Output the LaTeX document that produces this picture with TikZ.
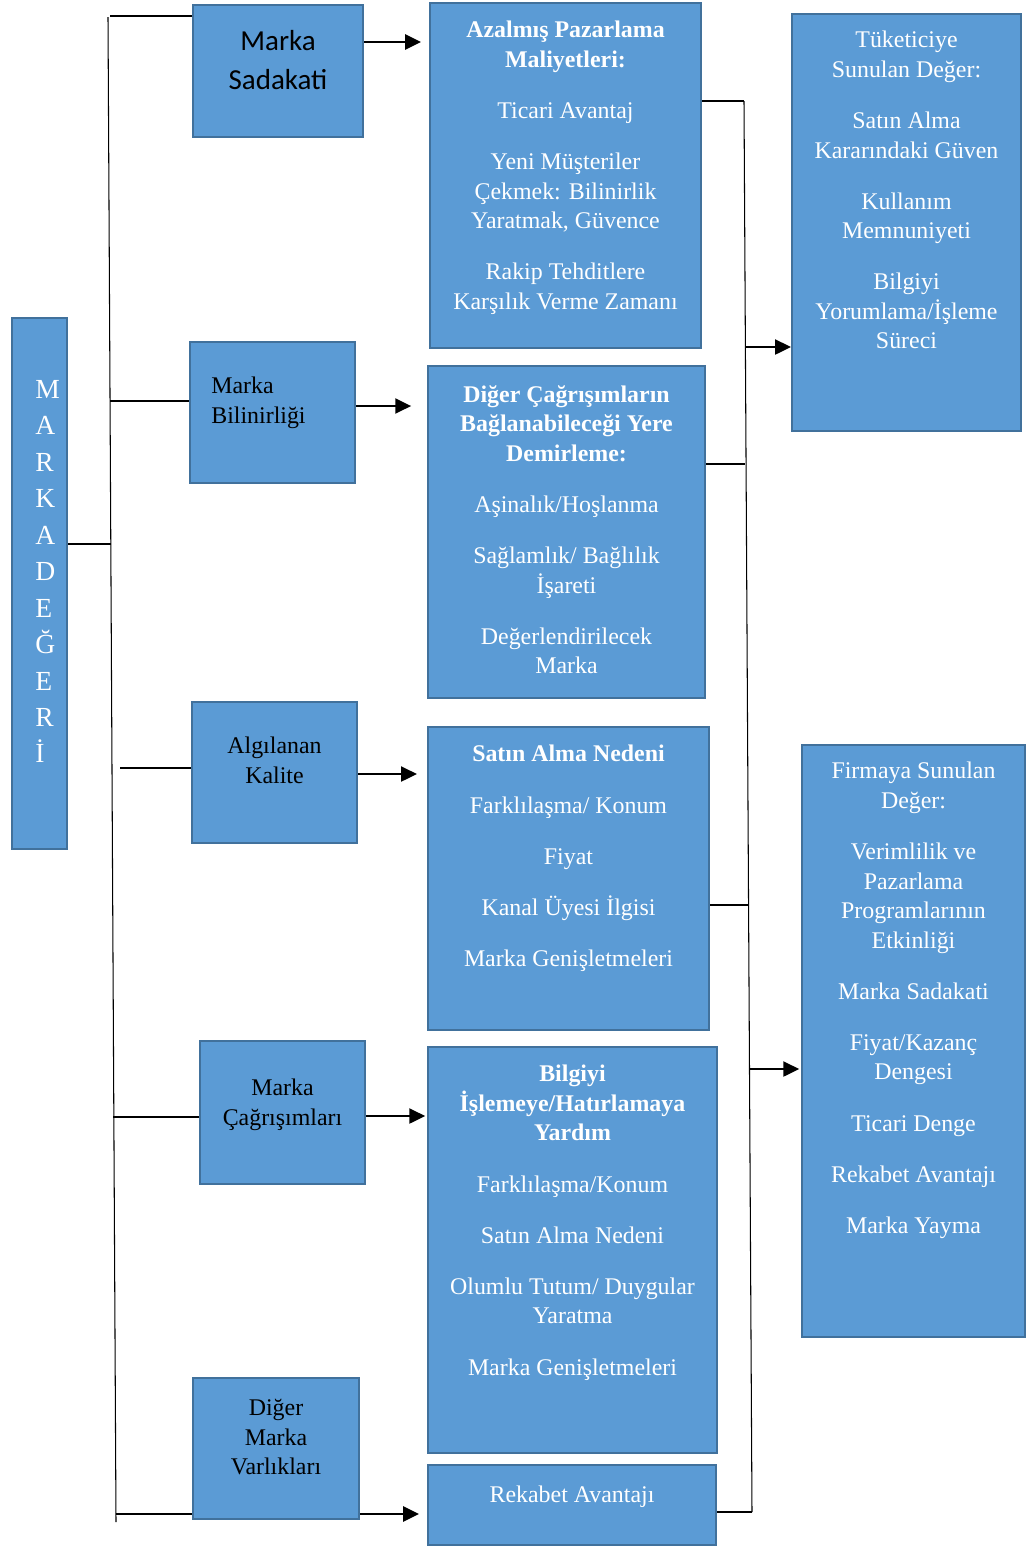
\documentclass[tikz,border=0pt]{standalone}
\usepackage{fontspec}
\setmainfont{Liberation Serif}
\newfontfamily\calibrifont{Carlito}
\usepackage{xcolor}
\usetikzlibrary{arrows.meta,positioning,fit}
\definecolor{boxblue}{HTML}{5B9BD5}
\definecolor{boxedge}{HTML}{41719C}

\begin{document}
\begin{tikzpicture}[
    x=0.02cm, y=-0.02cm,
    box/.style={draw=boxedge, fill=boxblue, line width=1.2pt, inner sep=0pt},
    wtext/.style={text=white, align=center, inner sep=0pt, anchor=north, font=\fontsize{13.6}{16.8}\selectfont},
    btext/.style={text=black, align=center, inner sep=0pt, anchor=north, font=\fontsize{13.6}{16.8}\selectfont},
    stext/.style={text=black, align=center, inner sep=0pt, anchor=north, font=\calibrifont\fontsize{16.5}{22}\selectfont},
    link/.style={line width=0.6pt},
    arrow/.style={line width=1.3pt, -{Triangle[length=9pt,width=8.5pt]}}
]
    \useasboundingbox (0,0) rectangle (1027,1546);

    % Brand equity column
    \node[box, fit={(12,318) (67,849)}] (equity) {};
    \node[wtext, align=left, anchor=north west, font=\fontsize{15.7}{20.75}\selectfont] (equityt) at (35,380)
        {M\\A\\R\\K\\A\\D\\E\\Ğ\\E\\R\\İ};

    % Dimensions
    \node[box, fit={(193,5) (363,137)}] (loyalty) {};
    \node[stext] (loyaltyt) at (278,30) {Marka\\Sadakati};
    \node[box, fit={(190,342) (355,483)}] (awareness) {};
    \node[btext, align=left, anchor=north west] (awarenesst) at (211,377) {Marka\\Bilinirliği};
    \node[box, fit={(192,702) (357,843)}] (quality) {};
    \node[btext] (qualityt) at (274.5,737) {Algılanan\\Kalite};
    \node[box, fit={(200,1041) (365,1184)}] (assoc) {};
    \node[btext] (assoct) at (282.5,1079) {Marka\\Çağrışımları};
    \node[box, fit={(193,1378) (359,1519)}] (assets) {};
    \node[btext] (assetst) at (276,1399) {Diğer\\Marka\\Varlıkları};

    % Outcomes of each dimension
    \node[box, fit={(430,3) (701,348)}] (costs) {};
    \node[wtext] (costst) at (565.5,21) {{\bfseries Azalmış Pazarlama}\\{\bfseries Maliyetleri:}\\[12.3pt]
        Ticari Avantaj\\[12.3pt]
        Yeni Müşteriler\\Çekmek: Bilinirlik\\Yaratmak, Güvence\\[12.3pt]
        Rakip Tehditlere\\Karşılık Verme Zamanı};
    \node[box, fit={(428,366) (705,698)}] (anchor) {};
    \node[wtext] (anchort) at (566.5,385) {{\bfseries Diğer Çağrışımların}\\{\bfseries Bağlanabileceği Yere}\\{\bfseries Demirleme:}\\[12.3pt]
        Aşinalık/Hoşlanma\\[12.3pt]
        Sağlamlık/ Bağlılık\\İşareti\\[12.3pt]
        Değerlendirilecek\\Marka};
    \node[box, fit={(428,727) (709,1030)}] (reason) {};
    \node[wtext] (reasont) at (568.5,745) {{\bfseries Satın Alma Nedeni}\\[12.3pt]
        Farklılaşma/ Konum\\[12.3pt]
        Fiyat\\[12.3pt]
        Kanal Üyesi İlgisi\\[12.3pt]
        Marka Genişletmeleri};
    \node[box, fit={(428,1047) (717,1453)}] (process) {};
    \node[wtext] (processt) at (572.5,1065) {{\bfseries Bilgiyi}\\{\bfseries İşlemeye/Hatırlamaya}\\{\bfseries Yardım}\\[12.3pt]
        Farklılaşma/Konum\\[12.3pt]
        Satın Alma Nedeni\\[12.3pt]
        Olumlu Tutum/ Duygular\\Yaratma\\[12.3pt]
        Marka Genişletmeleri};
    \node[box, fit={(428,1465) (716,1545)}] (advantage) {};
    \node[wtext] (advantaget) at (572,1486) {Rekabet Avantajı};

    % Value boxes
    \node[box, fit={(792,14) (1021,431)}] (customer) {};
    \node[wtext] (customert) at (906.5,31) {Tüketiciye\\Sunulan Değer:\\[12.3pt]
        Satın Alma\\Kararındaki Güven\\[12.3pt]
        Kullanım\\Memnuniyeti\\[12.3pt]
        Bilgiyi\\Yorumlama/İşleme\\Süreci};
    \node[box, fit={(802,745) (1025,1337)}] (firm) {};
    \node[wtext] (firmt) at (913.5,762) {Firmaya Sunulan\\Değer:\\[12.3pt]
        Verimlilik ve\\Pazarlama\\Programlarının\\Etkinliği\\[12.3pt]
        Marka Sadakati\\[12.3pt]
        Fiyat/Kazanç\\Dengesi\\[12.3pt]
        Ticari Denge\\[12.3pt]
        Rekabet Avantajı\\[12.3pt]
        Marka Yayma};

    % Left bracket
    \coordinate (ltop) at (108,17);
    \coordinate (lbot) at (116,1522);
    \coordinate (j1) at (110,16);
    \coordinate (j2) at (110,401);
    \coordinate (j3) at (111,544);
    \coordinate (j4) at (120,768);
    \coordinate (j5) at (113,1117);
    \coordinate (j6) at (116,1514);
    \draw[link] (ltop) -- (lbot);
    \draw[link] (j1) -- (j1 -| loyalty.west);
    \draw[link] (j2) -- (j2 -| awareness.west);
    \draw[link] (j3) -- (j3 -| equity.east);
    \draw[link] (j4) -- (j4 -| quality.west);
    \draw[link] (j5) -- (j5 -| assoc.west);
    \draw[link] (j6) -- (j6 -| assets.west);

    % Dimension arrows
    \draw[arrow, shorten >=4.5pt] (loyalty.east |- 0,42) -- (costs.west |- 0,42);
    \draw[arrow, shorten >=9pt] (awareness.east |- 0,406) -- (anchor.west |- 0,406);
    \draw[arrow, shorten >=5.7pt] (quality.east |- 0,774) -- (reason.west |- 0,774);
    \draw[arrow, shorten >=1pt] (assoc.east |- 0,1116) -- (process.west |- 0,1116);
    \draw[arrow, shorten >=4.5pt] (assets.east |- 0,1514) -- (advantage.west |- 0,1514);

    % Right bracket
    \coordinate (rtop) at (744,101);
    \coordinate (rbot) at (752,1512);
    \coordinate (k2) at (745,464);
    \coordinate (k3) at (748,905);
    \coordinate (k4) at (746,347);
    \coordinate (k5) at (750,1069);
    \draw[link] (rtop) -- (rbot);
    \draw[link] (costs.east |- rtop) -- (rtop);
    \draw[link] (anchor.east |- k2) -- (k2);
    \draw[link] (reason.east |- k3) -- (k3);
    \draw[link] (advantage.east |- rbot) -- (rbot);
    \draw[arrow] (k4) -- (k4 -| customer.west);
    \draw[arrow, shorten >=1pt] (k5) -- (k5 -| firm.west);
\end{tikzpicture}
\end{document}
